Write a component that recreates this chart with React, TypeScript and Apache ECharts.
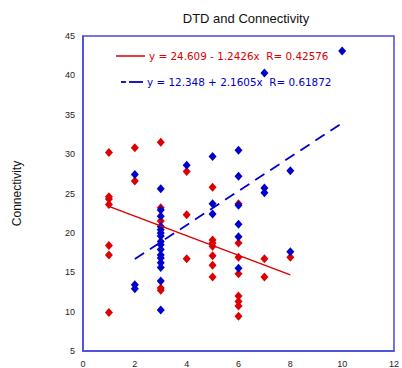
import React, { useEffect, useRef } from "react";
import * as echarts from "echarts";

const redX = [1, 1, 1, 1, 1, 1, 1, 2, 2, 3, 3, 3, 3, 3, 4, 4, 4, 5, 5, 5, 5, 5, 5, 5, 6, 6, 6, 6, 6, 6, 6, 6, 7, 7, 8];
const redY = [30.2, 24.6, 24.3, 23.6, 18.4, 17.2, 9.9, 30.8, 26.6, 31.5, 23.2, 21.5, 13.0, 12.7, 27.8, 22.3, 16.7, 25.8, 19.1, 18.7, 18.3, 17.1, 15.9, 14.4, 23.7, 18.7, 16.9, 14.8, 12.0, 11.3, 10.7, 9.4, 16.7, 14.4, 16.9];

const blueX = [2, 2, 2, 3, 3, 3, 3, 3, 3, 3, 3, 3, 3, 3, 3, 3, 3, 3, 3, 4, 5, 5, 5, 6, 6, 6, 6, 6, 6, 7, 7, 7, 8, 8, 10];
const blueY = [27.4, 13.4, 12.9, 25.6, 22.9, 22.1, 20.8, 20.4, 20.0, 19.6, 18.9, 18.5, 17.9, 17.2, 16.8, 16.2, 15.6, 13.9, 10.2, 28.6, 29.7, 23.7, 22.4, 30.5, 27.2, 23.5, 21.1, 19.5, 15.5, 40.3, 25.7, 25.1, 27.9, 17.6, 43.1];

const redFit = { intercept: 24.609, slope: -1.2426, r: 0.42576, from: 1, to: 8 };
const blueFit = { intercept: 12.348, slope: 2.1605, r: 0.61872, from: 2, to: 10 };

const xTicks = [0, 2, 4, 6, 8, 10, 12];
const yTicks = [5, 10, 15, 20, 25, 30, 35, 40, 45];

const RED = "#dd0000";
const BLUE = "#0000cc";
const FRAME = "#4848e0";

export default function App() {
  const ref = useRef<HTMLDivElement>(null);
  useEffect(() => {
    const chart = echarts.init(ref.current!, undefined, { renderer: "svg" });
    const fitLine = (f: typeof redFit) => [
      [f.from, f.intercept + f.slope * f.from],
      [f.to, f.intercept + f.slope * f.to],
    ];
    const font = "'Liberation Sans', Arial, sans-serif";
    const legendFont = "'DejaVu Sans', sans-serif";
    chart.setOption({
      animation: false,
      backgroundColor: "#fff",
      title: {
        text: "DTD and Connectivity",
        left: 241,
        top: 7,
        textAlign: "center",
        textStyle: { fontSize: 13, fontWeight: "normal", color: "#111", fontFamily: font },
      },
      grid: { left: 83, right: 5, top: 36, bottom: 17, show: true, borderColor: FRAME, borderWidth: 1.5, backgroundColor: "#fff" },
      xAxis: {
        type: "value",
        min: xTicks[0],
        max: xTicks[xTicks.length - 1],
        interval: 2,
        axisLine: { show: true, lineStyle: { color: FRAME, width: 1.5 } },
        axisTick: { show: false },
        splitLine: { show: false },
        axisLabel: { color: "#222", fontSize: 9, margin: 8, fontFamily: font },
      },
      yAxis: {
        type: "value",
        min: yTicks[0],
        max: yTicks[yTicks.length - 1],
        interval: 5,
        name: "Connectivity",
        nameLocation: "middle",
        nameGap: 60,
        nameTextStyle: { fontSize: 12, color: "#111", fontFamily: font },
        axisLine: { show: true, lineStyle: { color: FRAME, width: 1.5 } },
        axisTick: { show: false },
        splitLine: { show: false },
        axisLabel: { color: "#222", fontSize: 9, margin: 8, fontFamily: font },
      },
      series: [
        {
          type: "scatter",
          data: redX.map((x, i) => [x, redY[i]]),
          symbol: "diamond",
          symbolSize: [8, 9],
          itemStyle: { color: RED, opacity: 1 },
          z: 2,
        },
        {
          type: "scatter",
          data: blueX.map((x, i) => [x, blueY[i]]),
          symbol: "diamond",
          symbolSize: [8, 9],
          itemStyle: { color: BLUE, opacity: 1 },
          z: 3,
        },
        {
          type: "line",
          data: fitLine(redFit),
          symbol: "none",
          lineStyle: { color: RED, width: 1.5 },
          z: 4,
        },
        {
          type: "line",
          data: fitLine(blueFit),
          symbol: "none",
          lineStyle: { color: BLUE, width: 1.8, type: [11, 7] },
          z: 4,
        },
      ],
      graphic: [
        { type: "line", shape: { x1: 116, y1: 56, x2: 145, y2: 56 }, style: { stroke: RED, lineWidth: 1.5 } },
        {
          type: "text",
          x: 149,
          y: 56,
          style: {
            text: `y = ${redFit.intercept} - ${Math.abs(redFit.slope)}x  R= ${redFit.r}`,
            fill: RED,
            fontSize: 10.4,
            fontFamily: legendFont,
            verticalAlign: "middle",
          },
        },
        { type: "line", shape: { x1: 121, y1: 82, x2: 126, y2: 82 }, style: { stroke: BLUE, lineWidth: 1.8 } },
        { type: "line", shape: { x1: 129, y1: 82, x2: 143, y2: 82 }, style: { stroke: BLUE, lineWidth: 1.8 } },
        {
          type: "text",
          x: 147,
          y: 82,
          style: {
            text: `y = ${blueFit.intercept} + ${blueFit.slope}x  R= ${blueFit.r}`,
            fill: BLUE,
            fontSize: 10.4,
            fontFamily: legendFont,
            verticalAlign: "middle",
          },
        },
      ],
    });
    return () => chart.dispose();
  }, []);
  return <div ref={ref} style={{ width: 402, height: 368, position: "absolute", left: 0, top: 0 }} />;
}
